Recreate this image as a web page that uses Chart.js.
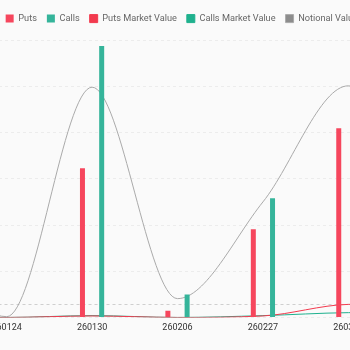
<!DOCTYPE html>
<html>
<head>
<meta charset="utf-8">
<script src="https://cdn.jsdelivr.net/npm/chart.js@4.4.1/dist/chart.umd.min.js"></script>
<style>
  html, body { margin: 0; padding: 0; background: #fafafa; }
  #frame { position: relative; width: 350px; height: 350px; overflow: hidden; }
  #wrap { position: absolute; left: -122.5px; top: 0; width: 607.5px; height: 350px; }
</style>
</head>
<body>
<div id="frame"><div id="wrap"><canvas id="optionsChart"></canvas></div></div>
<script>
// expiry dates (yymmdd)
const expiries = ['260123', '260124', '260130', '260206', '260227', '260327', '260626'];

// open interest bars
const puts  = [800, 0, 3230, 150, 1910, 4090, 1500];
const calls = [600, 0, 5870, 500, 2580, 1200, 1800];

// market value lines (own axis, zero = dashed line)
const putsMarketValue  = [-1.9, -1.98, -1.75, -1.98, -1.75, 0, 0.1];
const callsMarketValue = [-1.9, -1.98, -1.7, -1.98, -1.7, -1.25, -1.2];

// notional value curve
const notionalValue = [1500, 20, 4980, 410, 2500, 5010, 3000];

const RED = '#f6465d';
const TEAL = '#35b49a';

// a bit more room between legend and plot
const legendSpacing = {
  id: 'legendSpacing',
  beforeInit(chart) {
    const fit = chart.legend.fit;
    chart.legend.fit = function () {
      fit.bind(chart.legend)();
      this.height += 6.8;
    };
  }
};

const ctx = document.getElementById('optionsChart').getContext('2d');
new Chart(ctx, {
  type: 'bar',
  data: {
    labels: expiries,
    datasets: [
      {
        label: 'Puts',
        data: puts,
        backgroundColor: RED,
        yAxisID: 'y',
        categoryPercentage: 0.45,
        barPercentage: 0.26
      },
      {
        label: 'Calls',
        data: calls,
        backgroundColor: TEAL,
        yAxisID: 'y',
        categoryPercentage: 0.45,
        barPercentage: 0.26
      },
      {
        type: 'line',
        label: 'Puts Market Value',
        data: putsMarketValue,
        borderColor: '#f23a4e',
        backgroundColor: '#f23a4e',
        borderWidth: 1,
        pointRadius: 0,
        cubicInterpolationMode: 'monotone',
        yAxisID: 'y2'
      },
      {
        type: 'line',
        label: 'Calls Market Value',
        data: callsMarketValue,
        borderColor: '#1fb18e',
        backgroundColor: '#1fb18e',
        borderWidth: 1,
        pointRadius: 0,
        cubicInterpolationMode: 'monotone',
        yAxisID: 'y2'
      },
      {
        type: 'line',
        label: 'Notional Value',
        data: notionalValue,
        borderColor: '#aaaaaa',
        backgroundColor: '#8c8c8c',
        borderWidth: 1,
        pointRadius: 0,
        cubicInterpolationMode: 'monotone',
        yAxisID: 'y1'
      }
    ]
  },
  options: {
    responsive: true,
    maintainAspectRatio: false,
    animation: false,
    layout: { padding: { top: 4, left: 0, right: 0, bottom: 19.6 } },
    plugins: {
      legend: {
        position: 'top',
        labels: {
          boxWidth: 8,
          boxHeight: 8,
          padding: 10,
          color: '#666666',
          font: { family: 'Roboto', size: 9.2 }
        }
      },
      tooltip: { enabled: false }
    },
    scales: {
      x: {
        grid: { display: false },
        border: { display: false },
        ticks: {
          color: '#333333',
          padding: -3,
          font: { family: 'Roboto', size: 9 },
          maxRotation: 0,
          autoSkip: false
        }
      },
      y: {
        min: 0,
        max: 6000,
        ticks: { display: false, stepSize: 1000 },
        border: { display: false, dash: [3, 3] },
        grid: { color: '#ececec', drawTicks: false },
        afterFit: (scale) => { scale.width = 0; }
      },
      y1: {
        display: false,
        min: 0,
        max: 6000
      },
      y2: {
        position: 'right',
        min: -2,
        max: 40,
        ticks: { display: false, stepSize: 2 },
        border: { display: false, dash: [3, 3] },
        grid: {
          drawTicks: false,
          color: (c) => (c.tick && c.tick.value === 0 ? '#cfcfcf' : 'transparent')
        },
        afterFit: (scale) => { scale.width = 9; }
      }
    }
  },
  plugins: [legendSpacing]
});
</script>
</body>
</html>
